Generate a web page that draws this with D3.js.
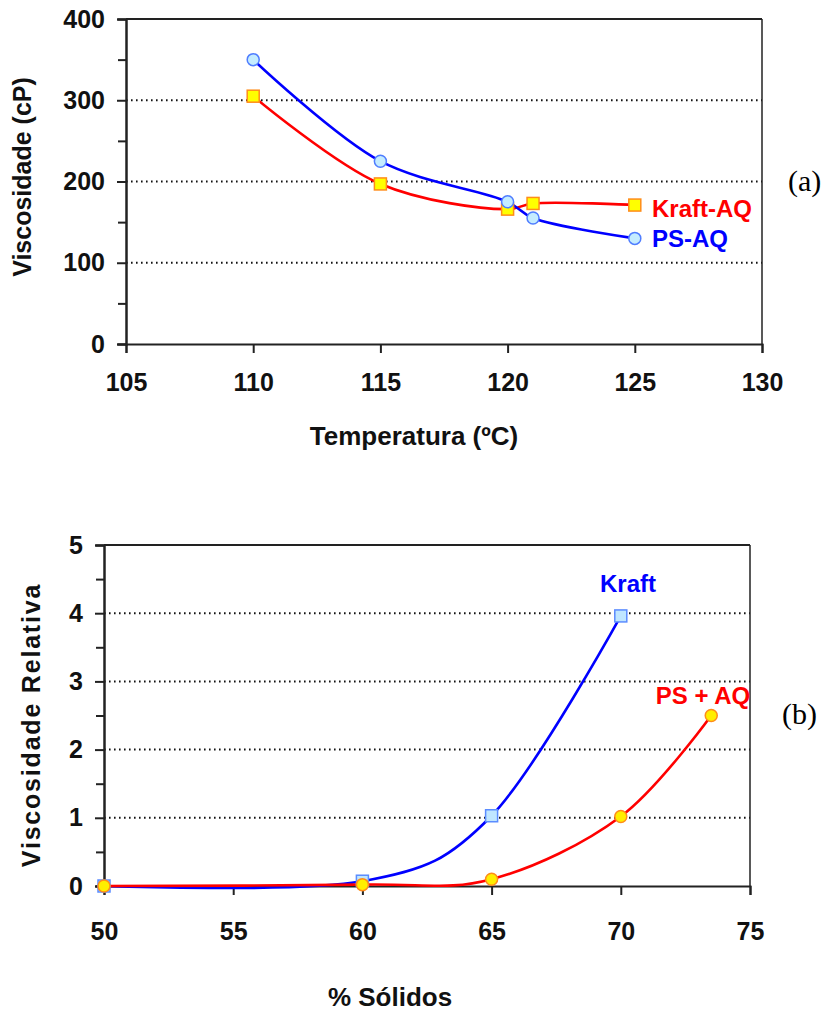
<!DOCTYPE html>
<html><head><meta charset="utf-8">
<script src="https://cdn.jsdelivr.net/npm/d3@7"></script>
<style>
html,body{margin:0;padding:0;background:#fff;}
svg text{font-family:"Liberation Sans",Arial,sans-serif;font-weight:bold;}
</style></head>
<body>
<svg id="c" width="825" height="1012"></svg>
<script>
// ---- Chart (a) data ----
const tempTicks = [105, 110, 115, 120, 125, 130];
const viscTicks = [0, 100, 200, 300, 400];
const kraftAQ_T = [110, 115, 120, 121, 125];
const kraftAQ_V = [305, 197, 166, 173, 171];
const psAQ_T = [110, 115, 120, 121, 125];
const psAQ_V = [350, 225, 175, 155, 130];

// ---- Chart (b) data ----
const solTicks = [50, 55, 60, 65, 70, 75];
const relTicks = [0, 1, 2, 3, 4, 5];
const kraft_S = [50, 60, 65, 70];
const kraft_R = [0, 0.07, 1.03, 3.96];
const psAQb_S = [50, 60, 65, 70, 73.5];
const psAQb_R = [0, 0.02, 0.1, 1.02, 2.5];

const svg = d3.select("#c");
svg.append("rect").attr("width",825).attr("height",1012).attr("fill","#fff");

function panel(o){
  const g = svg.append("g");
  const x = d3.scaleLinear().domain(o.xd).range([o.x0,o.x1]);
  const y = d3.scaleLinear().domain(o.yd).range([o.y0,o.y1]);
  g.selectAll(".grid").data(o.grid).join("line")
    .attr("x1",o.x0).attr("x2",o.x1).attr("y1",d=>y(d)).attr("y2",d=>y(d))
    .attr("stroke","#111").attr("stroke-width",2).attr("stroke-dasharray","1.6,3.4");
  g.append("line").attr("x1",o.x0).attr("x2",o.x1).attr("y1",o.y1).attr("y2",o.y1).attr("stroke","#222").attr("stroke-width",2);
  g.append("line").attr("x1",o.x1).attr("x2",o.x1).attr("y1",o.y1).attr("y2",o.y0).attr("stroke","#222").attr("stroke-width",1.5);
  const ya = g.append("g").attr("transform",`translate(${o.x0},0)`)
    .call(d3.axisLeft(y).tickValues(o.ymin).tickSize(8).tickFormat(""));
  const yb = g.append("g").attr("transform",`translate(${o.x0},0)`)
    .call(d3.axisLeft(y).tickValues(o.yt).tickSize(9).tickPadding(12).tickFormat(d3.format("d")));
  const xa = g.append("g").attr("transform",`translate(0,${o.y0})`)
    .call(d3.axisBottom(x).tickValues(o.xt).tickSize(9).tickPadding(o.xpad).tickFormat(d3.format("d")));
  [ya,yb,xa].forEach(a=>{
    a.select(".domain").attr("stroke","#222").attr("stroke-width",2);
    a.selectAll(".tick line").attr("stroke","#222").attr("stroke-width",2);
    a.selectAll("text").attr("fill","#111").style("font-size","25px").style("font-family","'Liberation Sans',Arial,sans-serif").style("font-weight","bold");
  });
  return {g,x,y};
}

// ---------- (a) ----------
const A = panel({xd:[105,130], yd:[0,400], x0:126, x1:762, y0:344, y1:19,
  grid:[100,200,300], xt:tempTicks, yt:viscTicks, ymin:[50,150,250,350], xpad:20});
const lineA = d3.line().curve(d3.curveCatmullRom.alpha(0.5));
A.g.append("path").attr("d",lineA(kraftAQ_T.map((t,i)=>[A.x(t),A.y(kraftAQ_V[i])])))
  .attr("fill","none").attr("stroke","#ff0000").attr("stroke-width",2.6);
A.g.append("path").attr("d",lineA(psAQ_T.map((t,i)=>[A.x(t),A.y(psAQ_V[i])])))
  .attr("fill","none").attr("stroke","#0000ff").attr("stroke-width",2.6);
A.g.selectAll(".sq").data(kraftAQ_T.map((t,i)=>[t,kraftAQ_V[i]])).join("rect")
  .attr("x",d=>A.x(d[0])-6).attr("y",d=>A.y(d[1])-6).attr("width",12).attr("height",12)
  .attr("fill","#ffff00").attr("stroke","#ff8c1a").attr("stroke-width",1.5);
A.g.selectAll(".ci").data(psAQ_T.map((t,i)=>[t,psAQ_V[i]])).join("circle")
  .attr("cx",d=>A.x(d[0])).attr("cy",d=>A.y(d[1])).attr("r",6)
  .attr("fill","#c4ecff").attr("stroke","#4f7dff").attr("stroke-width",1.5);
A.g.append("text").attr("x",652).attr("y",217).attr("fill","#ff0000").style("font-size","24px").text("Kraft-AQ");
A.g.append("text").attr("x",652).attr("y",247).attr("fill","#0000ff").style("font-size","24px").text("PS-AQ");
svg.append("text").attr("transform","translate(31,177) rotate(-90)").attr("text-anchor","middle")
  .attr("fill","#111").style("font-size","25px").text("Viscosidade (cP)");
svg.append("text").attr("x",414).attr("y",445).attr("text-anchor","middle")
  .attr("fill","#111").style("font-size","26px").text("Temperatura (ºC)");
svg.append("text").attr("x",788).attr("y",191).attr("fill","#000")
  .style("font-family","'Liberation Serif','Times New Roman',serif").style("font-weight","normal").style("font-size","30px").text("(a)");

// ---------- (b) ----------
const B = panel({xd:[50,75], yd:[0,5], x0:104, x1:750, y0:886, y1:545,
  grid:[1,2,3,4,5], xt:solTicks, yt:relTicks, ymin:[0.5,1.5,2.5,3.5,4.5], xpad:27});
const lineB = d3.line().curve(d3.curveCardinal.tension(0));
B.g.append("path").attr("d",lineB(kraft_S.map((s,i)=>[B.x(s),B.y(kraft_R[i])])))
  .attr("fill","none").attr("stroke","#0000ff").attr("stroke-width",2.6);
B.g.append("path").attr("d",lineB(psAQb_S.map((s,i)=>[B.x(s),B.y(psAQb_R[i])])))
  .attr("fill","none").attr("stroke","#ff0000").attr("stroke-width",2.6);
B.g.selectAll(".sq").data(kraft_S.map((s,i)=>[s,kraft_R[i]])).join("rect")
  .attr("x",d=>B.x(d[0])-6).attr("y",d=>B.y(d[1])-6).attr("width",12).attr("height",12)
  .attr("fill","#bfe6ff").attr("stroke","#5b8cff").attr("stroke-width",1.5);
B.g.selectAll(".ci").data(psAQb_S.map((s,i)=>[s,psAQb_R[i]])).join("circle")
  .attr("cx",d=>B.x(d[0])).attr("cy",d=>B.y(d[1])).attr("r",6)
  .attr("fill","#ffee00").attr("stroke","#ff8c1a").attr("stroke-width",1.5);
B.g.append("text").attr("x",628).attr("y",592).attr("text-anchor","middle").attr("fill","#0000ff").style("font-size","24px").text("Kraft");
B.g.append("text").attr("x",703).attr("y",704).attr("text-anchor","middle").attr("fill","#ff0000").style("font-size","24px").text("PS + AQ");
svg.append("text").attr("transform","translate(40,725) rotate(-90)").attr("text-anchor","middle")
  .attr("fill","#111").style("font-size","25px").style("letter-spacing","1.8px").text("Viscosidade Relativa");
svg.append("text").attr("x",390).attr("y",1006).attr("text-anchor","middle")
  .attr("fill","#111").style("font-size","26px").text("% Sólidos");
svg.append("text").attr("x",782).attr("y",724).attr("fill","#000")
  .style("font-family","'Liberation Serif','Times New Roman',serif").style("font-weight","normal").style("font-size","30px").text("(b)");
</script>
</body></html>
